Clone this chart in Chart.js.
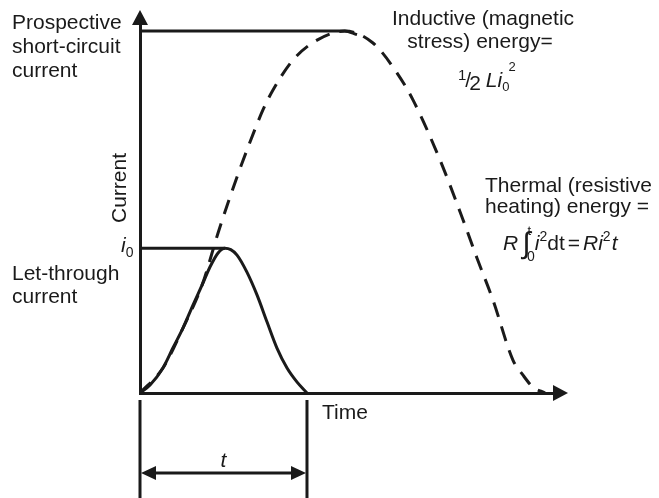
<!DOCTYPE html>
<html>
<head>
<meta charset="utf-8">
<script src="https://cdn.jsdelivr.net/npm/chart.js@4.4.1/dist/chart.umd.min.js"></script>
<style>
  html, body { margin: 0; padding: 0; background: #fff; }
  #wrap { width: 659px; height: 498px; position: relative; }
</style>
</head>
<body>
<div id="wrap"><canvas id="chart"></canvas></div>
<script>
// Values. Time unit: let-through duration ~ 10, current: prospective peak = 1
const letThroughTime = [0, 0.61, 1.39, 2.0, 2.61, 3.21, 3.76, 4.24, 4.73, 5.15, 5.5, 5.88, 6.48, 7.09, 7.7, 8.3, 8.91, 9.52, 10.12];
const letThroughCurrent = [0, 0.022, 0.069, 0.125, 0.18, 0.243, 0.298, 0.348, 0.387, 0.4, 0.396, 0.381, 0.334, 0.271, 0.196, 0.124, 0.069, 0.03, 0];

const prospectiveTime = [0, 1.39, 2.61, 3.76, 4.73, 5.33, 5.88, 6.48, 7.45, 8.06, 9.27, 10.73, 12.42, 14.12, 15.58, 16.55, 18.18, 19.58, 20.42, 21.39, 22.6, 23.2, 23.8, 24.55];
const prospectiveCurrent = [0, 0.069, 0.18, 0.298, 0.442, 0.525, 0.597, 0.671, 0.782, 0.837, 0.92, 0.975, 1.0, 0.967, 0.884, 0.809, 0.644, 0.478, 0.373, 0.257, 0.091, 0.05, 0.017, 0];

const peakLineTime = [0, 12.4, 13.15];
const peakLineCurrent = [1, 1, 0.99];
const i0LineTime = [0, 5.15];
const i0LineCurrent = [0.4, 0.4];

const ink = '#1a1a1a';
const font = '"Liberation Sans", Arial, Helvetica, sans-serif';

const pts = (xs, ys) => xs.map((x, i) => ({ x: x, y: ys[i] }));

// draw a run of text pieces: [text, italic, size, dy, extra advance]
function drawRuns(ctx, runs, x, y) {
  runs.forEach(r => {
    ctx.font = (r[1] ? 'italic ' : '') + r[2] + 'px ' + font;
    ctx.fillText(r[0], x, y + (r[3] || 0));
    x += ctx.measureText(r[0]).width + (r[4] || 0);
  });
}

function arrowHead(ctx, tipX, tipY, dx, dy, len, half) {
  const bx = tipX - dx * len, by = tipY - dy * len;
  ctx.beginPath();
  ctx.moveTo(tipX, tipY);
  ctx.lineTo(bx - dy * half, by + dx * half);
  ctx.lineTo(bx + dy * half, by - dx * half);
  ctx.closePath();
  ctx.fill();
}

const annotations = {
  id: 'annotations',
  afterDraw(chart) {
    const ctx = chart.ctx;
    const xs = chart.scales.x, ys = chart.scales.y;
    const area = chart.chartArea;
    ctx.save();
    ctx.fillStyle = ink;
    ctx.strokeStyle = ink;

    // axis arrows
    arrowHead(ctx, area.left, 10, 0, -1, 15, 8);
    arrowHead(ctx, 568, area.bottom, 1, 0, 15, 8);

    // duration dimension
    const t0 = xs.getPixelForValue(letThroughTime[0]);
    const t1 = xs.getPixelForValue(letThroughTime[letThroughTime.length - 1]);
    ctx.lineWidth = 3;
    ctx.beginPath();
    ctx.moveTo(t0, 400); ctx.lineTo(t0, 498);
    ctx.moveTo(t1, 400); ctx.lineTo(t1, 498);
    ctx.stroke();
    ctx.beginPath();
    ctx.moveTo(t0 + 10, 473); ctx.lineTo(t1 - 10, 473);
    ctx.stroke();
    arrowHead(ctx, t0 + 1, 473, -1, 0, 15, 7);
    arrowHead(ctx, t1 - 1, 473, 1, 0, 15, 7);

    ctx.textBaseline = 'alphabetic';
    ctx.textAlign = 'center';
    ctx.font = 'italic 21px ' + font;
    ctx.fillText('t', (t0 + t1) / 2, 467);

    ctx.textAlign = 'left';
    ctx.font = '21px ' + font;
    ctx.fillText('Time', 322, 419);

    // left labels
    ctx.fillText('Prospective', 12, 29);
    ctx.fillText('short-circuit', 12, 53);
    ctx.fillText('current', 12, 77);
    ctx.fillText('Let-through', 12, 280);
    ctx.fillText('current', 12, 303);

    // i0 label
    const iy = ys.getPixelForValue(i0LineCurrent[0]);
    drawRuns(ctx, [['i', true, 21, 0], ['0', false, 14, 5]], 121, iy + 4);

    // Inductive energy
    ctx.textAlign = 'center';
    ctx.font = '21px ' + font;
    ctx.fillText('Inductive (magnetic', 483, 25);
    ctx.fillText('stress) energy=', 480, 48);
    ctx.textAlign = 'left';
    drawRuns(ctx, [
      ['1', false, 15, -7, -1], ['/', false, 21, 0, -2], ['2', false, 21, 3, 5],
      ['L', true, 21, 0], ['i', true, 21, 0], ['0', false, 13, 4, -1], ['2', false, 13, -16]
    ], 458, 87);

    // Thermal energy
    ctx.font = '21px ' + font;
    ctx.fillText('Thermal (resistive', 485, 192);
    ctx.fillText('heating) energy =', 485, 213);
    drawRuns(ctx, [
      ['R', true, 21, 0, 4], ['\u222B', false, 30, 3, -3], ['t', false, 13, -15, -4], ['0', false, 14, 11, 0],
      ['i', true, 21, 0, 0], ['2', false, 14, -9, 0], ['dt', false, 21, 0, 3], ['=', false, 21, 0, 3],
      ['R', true, 21, 0], ['i', true, 21, 0], ['2', false, 14, -9, 1], ['t', true, 21, 0]
    ], 503, 250);

    // axis title
    ctx.save();
    ctx.translate(126, 188);
    ctx.rotate(-Math.PI / 2);
    ctx.textAlign = 'center';
    ctx.font = '21px ' + font;
    ctx.fillText('Current', 0, 0);
    ctx.restore();

    ctx.restore();
  }
};

new Chart(document.getElementById('chart'), {
  type: 'line',
  data: {
    datasets: [
      { data: pts(prospectiveTime, prospectiveCurrent), borderColor: ink, borderWidth: 3, borderDash: [15, 10], cubicInterpolationMode: 'monotone', pointRadius: 0, fill: false },
      { data: pts(letThroughTime, letThroughCurrent), borderColor: ink, borderWidth: 3, cubicInterpolationMode: 'monotone', pointRadius: 0, fill: false },
      { data: pts(peakLineTime, peakLineCurrent), borderColor: ink, borderWidth: 3, cubicInterpolationMode: 'monotone', pointRadius: 0, fill: false },
      { data: pts(i0LineTime, i0LineCurrent), borderColor: ink, borderWidth: 3, pointRadius: 0, fill: false }
    ]
  },
  options: {
    responsive: true,
    maintainAspectRatio: false,
    animation: false,
    layout: { padding: { left: 140, right: 104, top: 22, bottom: 105 } },
    plugins: { legend: { display: false }, tooltip: { enabled: false } },
    scales: {
      x: { type: 'linear', min: 0, max: 25.15, ticks: { display: false }, grid: { display: false, drawTicks: false }, border: { display: true, width: 3, color: ink } },
      y: { type: 'linear', min: 0, max: 1.025, ticks: { display: false }, grid: { display: false, drawTicks: false }, border: { display: true, width: 3, color: ink } }
    }
  },
  plugins: [annotations]
});
</script>
</body>
</html>
